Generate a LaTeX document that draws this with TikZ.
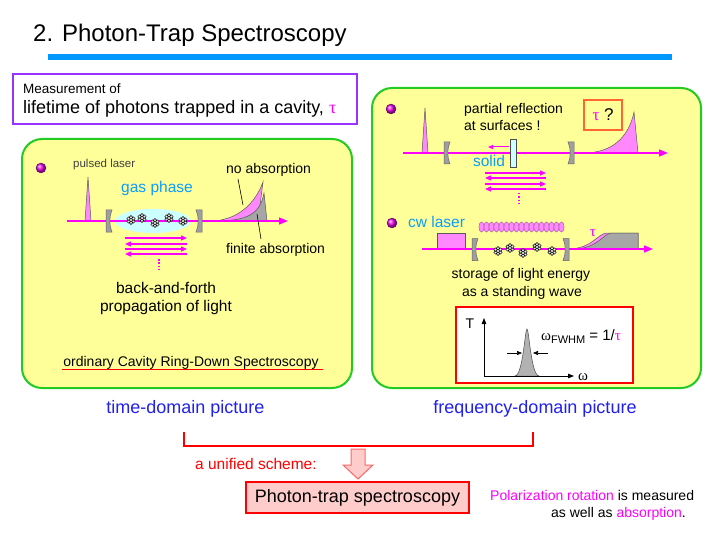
\documentclass[tikz,border=0pt]{standalone}
\usepackage{fontspec}
\setmainfont{Liberation Sans}
\newfontfamily\grk{Liberation Serif}
\usetikzlibrary{arrows.meta}
\definecolor{barblue}{HTML}{0099FF}
\definecolor{boxyellow}{HTML}{FFFF99}
\definecolor{boxgreen}{HTML}{22CC22}
\definecolor{violetline}{HTML}{9933FF}
\definecolor{beam}{HTML}{FF00FF}
\definecolor{pulsepink}{HTML}{FF88FF}
\definecolor{gascyan}{HTML}{CCFFFF}
\definecolor{labelcyan}{HTML}{0A9EFF}
\definecolor{labelblue}{HTML}{2020F0}
\definecolor{boxpink}{HTML}{FFCCCC}
\definecolor{orangered}{HTML}{FF6633}
\begin{document}
\begin{tikzpicture}[x=1pt, y=-1pt,
    txt/.style={inner sep=0pt},
    greenbox/.style={draw=boxgreen, fill=boxyellow, line width=2pt, rounded corners=20pt},
    beamline/.style={beam, line width=1.5pt, -{Triangle[length=9pt,width=7pt]}},
    bouncer/.style={beam, line width=1.2pt, -{Triangle[length=6pt,width=5pt]}},
    pulse/.style={fill=pulsepink, draw=black!65, line width=0.5pt},
    leader/.style={draw=black, line width=0.6pt},
    ballmark/.style={ball color=beam!80!violet, draw=violet!60!black, line width=0.3pt},
    mirror/.pic={\filldraw[fill=gray!75, draw=black!60, line width=0.5pt] (-3,-11) -- (3,-11) .. controls (0,-4) and (0,4) .. (3,11) -- (-3,11) -- cycle;},
    molec/.pic={\foreach \a in {30,90,...,330}
            \filldraw[fill=gray!15, draw=black, line width=0.45pt] (\a:2.8) circle (1.75);
        \filldraw[fill=white, draw=black, line width=0.45pt] (0,0) circle (1.6);}]
\useasboundingbox (0,0) rectangle (720,540);
\fill[white] (0,0) rectangle (720,540);
% title
\node[txt, anchor=base west, font=\fontsize{24}{28}\selectfont] (title) at (33,42) {2. Photon-Trap Spectroscopy};
\fill[barblue] (48,54) rectangle (672,60);
% measurement box
\draw[violetline, line width=2pt] (13,74) rectangle (357,124);
\node[txt, anchor=base west, font=\fontsize{13.5}{16}\selectfont] (meas) at (23,94) {Measurement of};
\node[txt, anchor=base west, font=\fontsize{18}{22}\selectfont] (life) at (23,114) {lifetime of photons trapped in a cavity, {\color{beam}\grk τ}};
% the two panels
\draw[greenbox] (22,139) rectangle (352,388);
\draw[greenbox] (372,88) rectangle (701,388);

% time domain
\shadedraw[ballmark] (41,168) circle (5);
\node[txt, anchor=base west, text=black!75, font=\fontsize{11.5}{14}\selectfont] (pulsed) at (73,168) {pulsed laser};
\fill[gascyan] (153,221) ellipse (38 and 12);
\node[txt, anchor=base, text=labelcyan, font=\fontsize{15.5}{18}\selectfont] (gas) at (157,193) {gas phase};
\filldraw[pulse] (85,221) -- (88,177) -- (91,221) -- cycle;
\filldraw[pulse] (214,221) .. controls (238,219) and (255,204) .. (263,182) -- (258,221) -- cycle;
\filldraw[fill=gray!70, draw=black!65, line width=0.5pt] (214,221) .. controls (248,221) and (260,214) .. (264,193) -- (267,221) -- cycle;
\draw[beamline] (67,221) -- (288,221);
\pic at (109,221) {mirror};
\pic[xscale=-1] at (199,221) {mirror};
\foreach \mx/\my in {131/220, 142/218, 155/223, 169/218, 183/221}
    \pic at (\mx,\my) {molec};
\foreach \ya/\yb in {238/244, 249/254} {
    \draw[bouncer] (125,\ya) -- (187,\ya);
    \draw[bouncer] (187,\yb) -- (125,\yb);
}
\draw[beam, line width=1.5pt, dash pattern=on 1.5pt off 1.8pt] (159,259) -- (159,269);
\node[txt, anchor=base west, font=\fontsize{14}{17}\selectfont] (noabs) at (226,174) {no absorption};
\node[txt, anchor=base west, font=\fontsize{14}{17}\selectfont] (finabs) at (226,253) {finite absorption};
\coordinate (na1) at (238,179);
\coordinate (na2) at (243,205);
\coordinate (fa1) at (257,214);
\coordinate (fa2) at (261,239);
\draw[leader] (na1) -- (na2);
\draw[leader] (fa1) -- (fa2);
\node[txt, anchor=base, font=\fontsize{15.5}{18}\selectfont] (bnf1) at (166,293) {back-and-forth};
\node[txt, anchor=base, font=\fontsize{15.5}{18}\selectfont] (bnf2) at (166,311) {propagation of light};
\node[txt, anchor=base, font=\fontsize{14}{17}\selectfont] (crds) at (191,366) {ordinary Cavity Ring-Down Spectroscopy};
\draw[red, line width=1.2pt] (62,369.5) -- (323,369.5);

% frequency domain: solid
\shadedraw[ballmark] (391,109) circle (5);
\filldraw[pulse] (422,153) -- (425,108) -- (428,153) -- cycle;
\filldraw[pulse] (586,153) .. controls (610,152) and (628,140) .. (634,112) -- (638,153) -- cycle;
\draw[beamline] (403,153) -- (668,153);
\pic at (447,153) {mirror};
\pic[xscale=-1] at (571,153) {mirror};
\filldraw[fill=gascyan, draw=black!70, line width=0.5pt] (510,139) rectangle (516,167);
\draw[beam, line width=1pt, -{Triangle[length=5pt,width=4pt]}] (509,147) -- (488,147);
\node[txt, anchor=base west, font=\fontsize{14}{17}\selectfont] (partial) at (464,114) {partial reflection};
\node[txt, anchor=base west, font=\fontsize{14}{17}\selectfont] (surf) at (464,131) {at surfaces !};
\node[txt, anchor=base, text=labelcyan, font=\fontsize{15.5}{18}\selectfont] (solid) at (489,167) {solid};
\foreach \ya/\yb in {173/178, 184/189} {
    \draw[bouncer] (485,\ya) -- (546,\ya);
    \draw[bouncer] (546,\yb) -- (485,\yb);
}
\draw[beam, line width=1.5pt, dash pattern=on 1.5pt off 1.8pt] (519,193) -- (519,203);
\node[draw=orangered, line width=1.2pt, minimum width=38, minimum height=30, inner sep=0pt, font=\fontsize{17}{20}\selectfont] (tauq) at (603,115) {{\color{beam}\grk τ} ?};

% frequency domain: cw laser
\shadedraw[ballmark] (392,223) circle (5);
\node[txt, anchor=base west, text=labelcyan, font=\fontsize{15.5}{18}\selectfont] (cw) at (408,228) {cw laser};
\foreach \i in {0,...,16}
    \filldraw[fill=pulsepink, draw=violet!70, line width=0.4pt] (481.5+5*\i,227) ellipse (2.6 and 5);
\filldraw[pulse] (437,233) rectangle (465,249);
\filldraw[pulse] (568,249) .. controls (592,249) and (598,233) .. (607,233) -- (638,233) -- (638,249) -- cycle;
\filldraw[fill=gray!70, draw=black!65, line width=0.5pt] (573,249) .. controls (598,249) and (603,233) .. (612,233) -- (638,233) -- (638,249) -- cycle;
\draw[beamline] (422,249) -- (653,249);
\pic at (475,249.5) {mirror};
\pic[xscale=-1] at (566,249.5) {mirror};
\foreach \mx/\my in {498/251, 510/248, 523/253, 537/247, 552/251}
    \pic at (\mx,\my) {molec};
\node[txt, text=beam, font=\fontsize{15}{18}\grk] (taucw) at (593,233) {τ};
\node[txt, anchor=base, font=\fontsize{14}{17}\selectfont] (store1) at (521,278) {storage of light energy};
\node[txt, anchor=base, font=\fontsize{14}{17}\selectfont] (store2) at (522,296) {as a standing wave};
% transmission spectrum
\filldraw[fill=white, draw=red, line width=1.5pt] (456,307) rectangle (633,383);
\filldraw[fill=gray!60, draw=black!70, line width=0.5pt] (515,376) .. controls (523,375) and (525,329) .. (527,329) .. controls (529,329) and (531,375) .. (539,376) -- cycle;
\draw[line width=0.8pt, -{Triangle[length=6pt,width=4.5pt]}] (484,376) -- (484,318);
\draw[line width=0.8pt, -{Triangle[length=6pt,width=4.5pt]}] (484,376) -- (574,376);
\coordinate (wl) at (507,353);
\coordinate (wr) at (548,353);
\draw[line width=0.6pt, -{Triangle[length=5pt,width=4pt]}] (wl) -- (522,353);
\draw[line width=0.6pt, -{Triangle[length=5pt,width=4pt]}] (wr) -- (533,353);
\node[txt, font=\fontsize{14}{17}\selectfont] (tlab) at (470,324) {T};
\node[txt, font=\fontsize{15}{18}\grk] (wlab) at (583,377) {ω};
\node[txt, anchor=base west, font=\fontsize{15}{18}\selectfont] (fwhm) at (541,340) {{\grk ω}\raisebox{-3.5pt}{\fontsize{11}{13}\selectfont FWHM} = 1/{\color{beam}\grk τ}};

% bottom
\node[txt, anchor=base, text=labelblue, font=\fontsize{18}{22}\selectfont] (tdp) at (185.5,413) {time-domain picture};
\node[txt, anchor=base, text=labelblue, font=\fontsize{18}{22}\selectfont] (fdp) at (535,413) {frequency-domain picture};
\coordinate (bl) at (184,432);
\coordinate (br) at (533,432);
\draw[red, line width=1.5pt] (bl) -- ++(0,14) -| (br);
\node[txt, anchor=base west, text=red, font=\fontsize{15.5}{18}\selectfont] (unified) at (195,469) {a unified scheme:};
\filldraw[fill=boxpink, draw=red!60, line width=1pt] (351,449) -- (365,449) -- (365,465) -- (373,465) -- (358,479) -- (343,465) -- (351,465) -- cycle;
\node[draw=red, fill=boxpink, line width=2.2pt, minimum width=223, minimum height=31, inner sep=0pt, font=\fontsize{18}{22}\selectfont] (ptbox) at (357.5,497.5) {Photon-trap spectroscopy};
\node[txt, anchor=base west, font=\fontsize{14}{17}\selectfont] (polar1) at (490,500) {{\color{beam}Polarization rotation} is measured};
\node[txt, anchor=base east, font=\fontsize{14}{17}\selectfont] (polar2) at (686,517) {as well as {\color{beam}absorption}.};
\end{tikzpicture}
\end{document}
